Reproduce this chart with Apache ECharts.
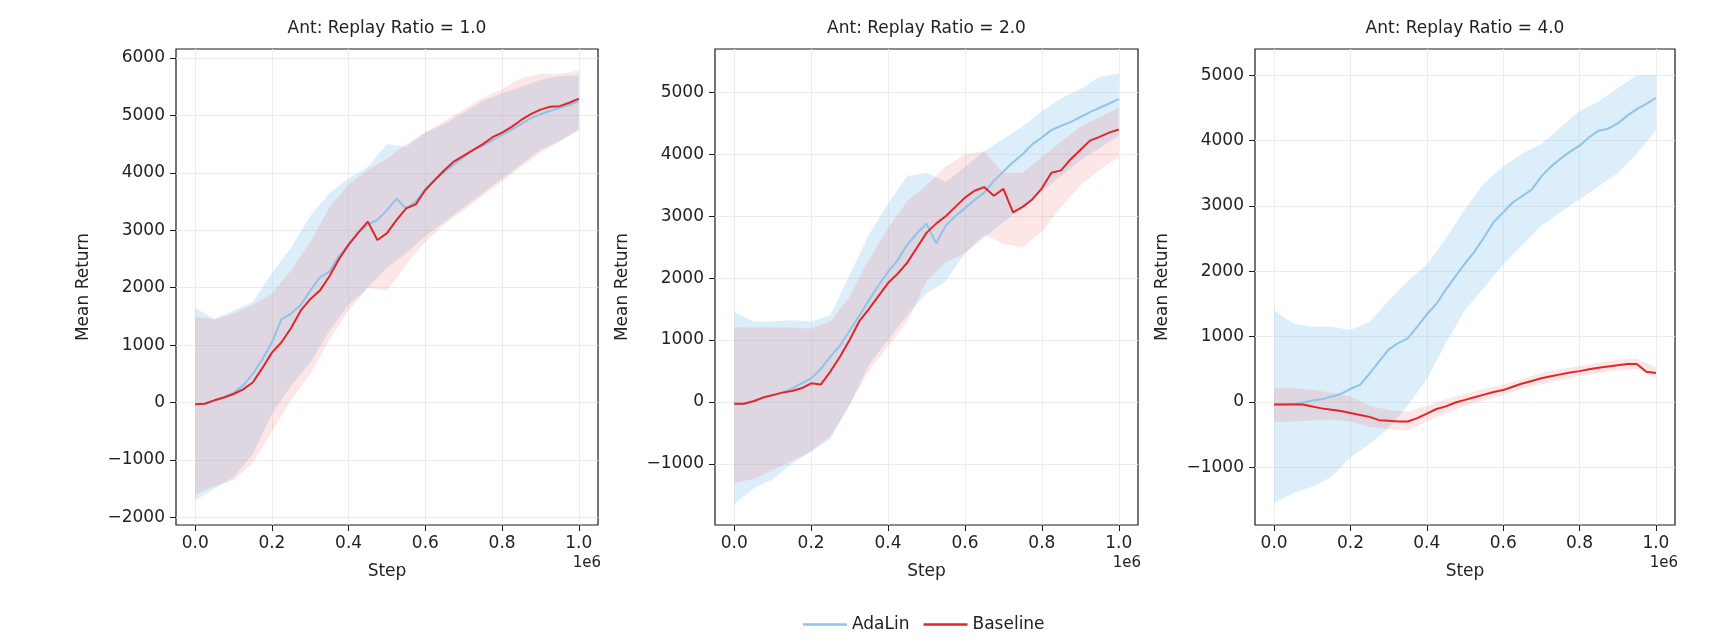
<!DOCTYPE html>
<html>
<head>
<meta charset="utf-8">
<script src="https://cdn.jsdelivr.net/npm/echarts@6/dist/echarts.min.js"></script>
<style>
  html, body { margin: 0; padding: 0; background: #fff; }
  #chart { width: 1722px; height: 637px; }
</style>
</head>
<body>
<div id="chart"></div>
<script>
// x positions, in units of 1e6 steps
const stepsMean = [0, 0.025, 0.05, 0.075, 0.1, 0.125, 0.15, 0.175, 0.2, 0.225, 0.25, 0.275, 0.3, 0.325, 0.35, 0.375,
  0.4, 0.425, 0.45, 0.475, 0.5, 0.525, 0.55, 0.575, 0.6, 0.625, 0.65, 0.675, 0.7, 0.725, 0.75, 0.775,
  0.8, 0.825, 0.85, 0.875, 0.9, 0.925, 0.95, 0.975, 1.0];
const stepsBand = [0, 0.05, 0.1, 0.15, 0.2, 0.25, 0.3, 0.35, 0.4, 0.45, 0.5, 0.55, 0.6, 0.65, 0.7, 0.75, 0.8, 0.85, 0.9, 0.95, 1.0];

const titles = ["Ant: Replay Ratio = 1.0", "Ant: Replay Ratio = 2.0", "Ant: Replay Ratio = 4.0"];
const xTicks = [0, 0.2, 0.4, 0.6, 0.8, 1.0];
const yTicks1 = [-2000, -1000, 0, 1000, 2000, 3000, 4000, 5000, 6000];
const yTicks2 = [-1000, 0, 1000, 2000, 3000, 4000, 5000];
const yTicks3 = [-1000, 0, 1000, 2000, 3000, 4000, 5000];

// replay ratio 1.0
const ada1 = [-30, -20, 40, 100, 170, 300, 500, 750, 1050, 1450, 1550, 1700, 1950, 2180, 2280, 2550, 2750, 2950, 3100, 3180,
  3350, 3550, 3380, 3500, 3720, 3880, 4020, 4150, 4270, 4400, 4470, 4570, 4660, 4750, 4850, 4950, 5020, 5080, 5130, 5180, 5250];
const base1 = [-30, -20, 40, 90, 150, 230, 350, 600, 870, 1050, 1300, 1600, 1800, 1950, 2200, 2500, 2750, 2960, 3150, 2830,
  2950, 3180, 3380, 3450, 3700, 3880, 4050, 4200, 4300, 4400, 4500, 4620, 4700, 4800, 4920, 5020, 5100, 5150, 5160, 5220, 5290];
const ada1Hi = [1650, 1450, 1600, 1750, 2250, 2700, 3250, 3650, 3900, 4100, 4500, 4450, 4700, 4850, 5050, 5250, 5380, 5500, 5620, 5680, 5700];
const ada1Lo = [-1700, -1500, -1300, -900, -200, 300, 700, 1250, 1700, 2000, 2350, 2600, 2900, 3150, 3400, 3650, 3900, 4150, 4400, 4550, 4750];
const base1Hi = [1500, 1450, 1550, 1700, 1900, 2300, 2800, 3400, 3800, 4050, 4250, 4500, 4700, 4900, 5100, 5300, 5450, 5650, 5720, 5720, 5780];
const base1Lo = [-1600, -1450, -1350, -1050, -500, 50, 500, 1100, 1600, 2000, 1950, 2400, 2800, 3100, 3350, 3600, 3850, 4100, 4350, 4550, 4750];

// replay ratio 2.0
const ada2 = [-30, -30, 10, 70, 110, 150, 220, 300, 380, 530, 730, 910, 1150, 1390, 1640, 1880, 2100, 2290, 2540, 2720,
  2880, 2560, 2850, 3000, 3130, 3260, 3380, 3570, 3720, 3870, 4000, 4160, 4270, 4390, 4460, 4520, 4600, 4680, 4750, 4820, 4890];
const base2 = [-30, -30, 10, 70, 110, 150, 175, 220, 300, 280, 490, 730, 1000, 1300, 1500, 1710, 1920, 2070, 2250, 2490,
  2730, 2880, 3000, 3150, 3300, 3410, 3470, 3330, 3440, 3060, 3150, 3270, 3450, 3700, 3740, 3920, 4070, 4220, 4280, 4350, 4400];
const ada2Hi = [1450, 1300, 1300, 1320, 1300, 1400, 2050, 2700, 3200, 3650, 3700, 3550, 3800, 4050, 4250, 4450, 4700, 4900, 5050, 5250, 5300];
const ada2Lo = [-1650, -1400, -1250, -1000, -800, -600, -50, 600, 1000, 1400, 1750, 1950, 2400, 2650, 2900, 3150, 3400, 3650, 3900, 4100, 4300];
const base2Hi = [1200, 1200, 1200, 1200, 1180, 1300, 1700, 2300, 2800, 3250, 3500, 3800, 4000, 4050, 3700, 3700, 3950, 4200, 4450, 4600, 4750];
const base2Lo = [-1300, -1250, -1100, -950, -800, -550, -50, 500, 900, 1300, 1950, 2250, 2400, 2700, 2550, 2500, 2750, 3150, 3500, 3750, 3950];

// replay ratio 4.0
const ada3 = [-40, -40, -30, -10, 20, 40, 80, 120, 200, 260, 430, 620, 800, 900, 970, 1150, 1340, 1500, 1720, 1920,
  2120, 2300, 2520, 2750, 2900, 3050, 3150, 3250, 3450, 3600, 3720, 3830, 3920, 4050, 4150, 4180, 4260, 4380, 4480, 4560, 4650];
const base3 = [-40, -40, -40, -40, -70, -100, -120, -140, -170, -200, -230, -280, -290, -300, -300, -250, -180, -110, -70, -10,
  30, 70, 110, 150, 180, 230, 280, 320, 360, 390, 420, 450, 470, 500, 520, 540, 560, 580, 580, 460, 440];
const ada3Hi = [1400, 1200, 1150, 1150, 1100, 1220, 1550, 1850, 2100, 2500, 2950, 3350, 3600, 3800, 3950, 4200, 4450, 4600, 4800, 5000, 5000];
const ada3Lo = [-1550, -1400, -1300, -1150, -850, -650, -400, -60, 350, 900, 1400, 1750, 2100, 2400, 2700, 2900, 3100, 3300, 3500, 3800, 4150];
const base3Hi = [220, 210, 180, 140, 80, -60, -130, -150, -60, 40, 120, 200, 260, 350, 440, 500, 550, 600, 640, 660, 520];
const base3Lo = [-310, -300, -280, -270, -300, -380, -420, -440, -300, -170, -60, 20, 100, 200, 270, 330, 390, 440, 480, 500, 370];

const FONT = "DejaVu Sans";
const TEXT = "#222";
const BLUE = "#8fc3ea";
const RED = "#e0262a";
const BLUE_BAND = "rgba(135, 200, 238, 0.3)";
const RED_BAND = "rgba(240, 90, 90, 0.15)";

// plot boxes (px)
const panels = [
  { left: 176, width: 422, yMin: -2130, yMax: 6155, yTicks: yTicks1,
    ada: ada1, base: base1, adaHi: ada1Hi, adaLo: ada1Lo, baseHi: base1Hi, baseLo: base1Lo },
  { left: 715, width: 423, yMin: -1988, yMax: 5700, yTicks: yTicks2,
    ada: ada2, base: base2, adaHi: ada2Hi, adaLo: ada2Lo, baseHi: base2Hi, baseLo: base2Lo },
  { left: 1255, width: 420, yMin: -1885, yMax: 5400, yTicks: yTicks3,
    ada: ada3, base: base3, adaHi: ada3Hi, adaLo: ada3Lo, baseHi: base3Hi, baseLo: base3Lo },
];
const TOP = 49, HEIGHT = 476;

const fmtY = (v) => (v < 0 ? "\u2212" + Math.abs(v) : String(v));

function bandSeries(i, name, lo, hi, color, z) {
  const data = stepsBand.map((x, k) => [x, lo[k], hi[k]]);
  return {
    name: name, type: "custom", xAxisIndex: i, yAxisIndex: i, z: z, silent: true,
    data: data, encode: { x: 0, y: [1, 2] },
    renderItem: function (params, api) {
      if (params.dataIndexInside !== 0) return null;
      const upper = data.map((d) => api.coord([d[0], d[2]]));
      const lower = data.map((d) => api.coord([d[0], d[1]])).reverse();
      return { type: "polygon", shape: { points: upper.concat(lower) }, style: { fill: color } };
    },
  };
}

function lineSeries(i, name, ys, color, z) {
  return {
    name: name, type: "line", xAxisIndex: i, yAxisIndex: i, z: z,
    data: stepsMean.map((x, k) => [x, ys[k]]),
    symbol: "none", showSymbol: false,
    lineStyle: { color: color, width: 2 }, itemStyle: { color: color },
  };
}

const grids = [], xAxes = [], yAxes = [], series = [], graphics = [];
panels.forEach((p, i) => {
  grids.push({
    left: p.left, top: TOP, width: p.width, height: HEIGHT,
    show: true, borderColor: "#1a1a1a", borderWidth: 1.2, backgroundColor: "#fff",
    outerBoundsMode: "none",
  });
  xAxes.push({
    type: "value", gridIndex: i, min: -0.05, max: 1.05,
    name: "Step", nameLocation: "middle", nameGap: 38,
    nameTextStyle: { fontFamily: FONT, fontSize: 17, color: TEXT },
    axisLine: { show: false, onZero: false },
    axisTick: { show: true, length: 6, lineStyle: { color: "#1a1a1a", width: 1 }, customValues: xTicks },
    axisLabel: { customValues: xTicks, formatter: (v) => v.toFixed(1), margin: 10,
      fontFamily: FONT, fontSize: 17, color: TEXT },
    splitLine: { show: true, lineStyle: { color: "#ececec", width: 1 } },
  });
  yAxes.push({
    type: "value", gridIndex: i, min: p.yMin, max: p.yMax,
    name: "Mean Return", nameLocation: "middle", nameGap: 84,
    nameTextStyle: { fontFamily: FONT, fontSize: 17, color: TEXT },
    axisLine: { show: false, onZero: false },
    axisTick: { show: true, length: 6, lineStyle: { color: "#1a1a1a", width: 1 }, customValues: p.yTicks },
    axisLabel: { customValues: p.yTicks, formatter: fmtY, margin: 11,
      fontFamily: FONT, fontSize: 17, color: TEXT },
    splitLine: { show: true, lineStyle: { color: "#ececec", width: 1 } },
  });
  series.push(bandSeries(i, "AdaLin band", p.adaLo, p.adaHi, BLUE_BAND, 1));
  series.push(bandSeries(i, "Baseline band", p.baseLo, p.baseHi, RED_BAND, 2));
  series.push(lineSeries(i, "AdaLin", p.ada, BLUE, 3));
  series.push(lineSeries(i, "Baseline", p.base, RED, 4));

  graphics.push({
    type: "text", x: p.left + p.width / 2, y: 29,
    style: { text: titles[i], font: "17px " + FONT, fill: TEXT,
      textAlign: "center", textVerticalAlign: "middle", align: "center", verticalAlign: "middle" },
  });
  graphics.push({
    type: "text", x: p.left + p.width + 3, y: 563,
    style: { text: "1e6", font: "15px " + FONT, fill: TEXT,
      textAlign: "right", textVerticalAlign: "middle", align: "right", verticalAlign: "middle" },
  });
});

const chart = echarts.init(document.getElementById("chart"), null, { renderer: "canvas" });
chart.setOption({
  animation: false,
  backgroundColor: "#fff",
  grid: grids,
  xAxis: xAxes,
  yAxis: yAxes,
  series: series,
  graphic: { elements: graphics },
  legend: {
    data: ["AdaLin", "Baseline"],
    left: 798, top: 611,
    icon: "rect", itemWidth: 44, itemHeight: 2.5, itemGap: 14,
    textStyle: { fontFamily: FONT, fontSize: 17, color: TEXT },
  },
});
</script>
</body>
</html>
